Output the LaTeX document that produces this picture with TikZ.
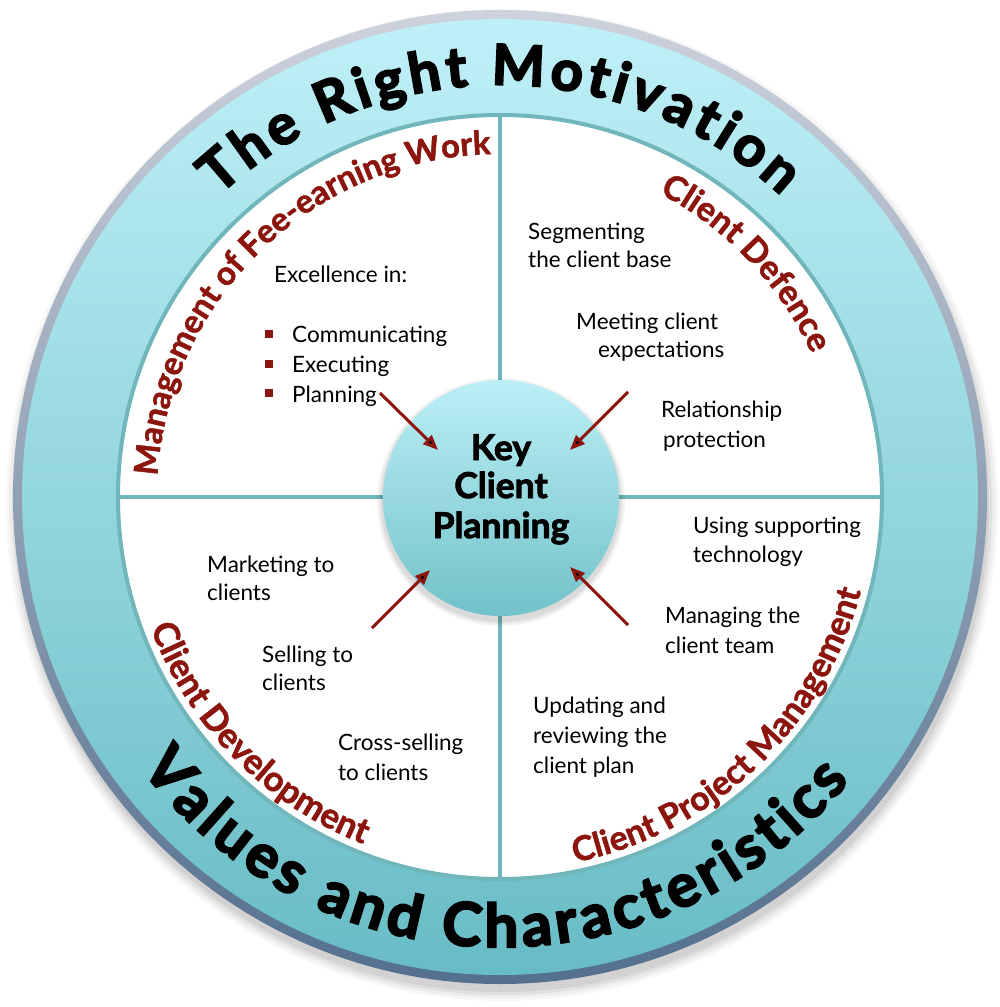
\documentclass[tikz,border=0pt]{standalone}
\usepackage{fontspec}
\setmainfont{Lato}
\newfontfamily\heavyfont{Lato}[BoldFeatures={FakeBold=3.5}]
\newfontfamily\hubfont{Lato}[BoldFeatures={FakeBold=2.5}]
\newfontfamily\redfont{Lato}[BoldFeatures={FakeBold=1.5}]
\usetikzlibrary{decorations.text,arrows.meta}
\definecolor{rimtop}{HTML}{CDD2DC}
\definecolor{rimbot}{HTML}{54708E}
\definecolor{ringtop}{HTML}{BFF0F7}
\definecolor{ringbot}{HTML}{68BCC5}
\definecolor{edge}{HTML}{70B6BA}
\definecolor{hubtop}{HTML}{BCEFF6}
\definecolor{hubbot}{HTML}{72C2C9}
\definecolor{kred}{HTML}{8C150E}
\begin{document}
\begin{tikzpicture}[x=1pt,y=1pt,
  body/.style={font=\fontsize{22.5}{27}\selectfont, anchor=base west, inner sep=0pt, text=black},
  hubtxt/.style={font=\hubfont\fontsize{35.5}{40}\selectfont\bfseries, anchor=base, inner sep=0pt},
  bul/.style={rectangle, fill=kred, minimum size=8pt, inner sep=0pt},
  arr/.style={draw=kred, line width=3pt, -{Triangle[length=15pt,width=12pt]}},
  ringtext/.style={decorate, decoration={text along path, text align=fit to path, text color=black}},
  redtext/.style={decorate, decoration={text along path, text align=center, text color=kred}}
]
\useasboundingbox (-500,-510) rectangle (499,497);
\fill[white] (-500,-510) rectangle (499,497);
% soft shadow
\foreach \r/\o in {496/0.03,493/0.04,490/0.05,487/0.06} {
  \fill[black, opacity=\o] (2,-8) circle[radius=\r];
}
% rim and ring
\shade[top color=rimtop, bottom color=rimbot] (0,0) circle[radius=487];
\shade[top color=ringtop, bottom color=ringbot] (0,0) circle[radius=478];
% inner white disc
\fill[white] (0,0) circle[radius=382];
\draw[edge, line width=4pt] (0,0) circle[radius=382];
% quadrant dividers
\draw[edge, line width=4pt] (0,382) -- (0,-382);
\draw[edge, line width=4pt] (-382,0) -- (382,0);
% ring texts
\path[ringtext, decoration={text={|\heavyfont\fontsize{56}{56}\selectfont\bfseries|The Right Motivation}}]
  (133:412) arc[start angle=133, end angle=47, radius=412];
\path[ringtext, decoration={text={|\heavyfont\fontsize{60}{60}\selectfont\bfseries|Values and Characteristics}}]
  (217:450) arc[start angle=217, end angle=321, radius=450];
% quadrant titles
\path[redtext, decoration={text={|\redfont\fontsize{33}{33}\selectfont\bfseries|Management of Fee-earning Work}}]
  (200:343) arc[start angle=200, end angle=68, radius=343];
\path[redtext, decoration={text={|\redfont\fontsize{34}{34}\selectfont\bfseries|Client Defence}}]
  (80:343) arc[start angle=80, end angle=7, radius=343];
\path[redtext, decoration={text={|\redfont\fontsize{35}{35}\selectfont\bfseries|Client Development}}]
  (190:373) arc[start angle=190, end angle=259, radius=373];
\path[redtext, decoration={text={|\redfont\fontsize{34}{34}\selectfont\bfseries|Client Project Management}}]
  (265:373) arc[start angle=265, end angle=362, radius=373];
% hub
\foreach \r/\o in {124/0.04,122/0.05,120/0.06} {
  \fill[black, opacity=\o] (1,-5) circle[radius=\r];
}
\node[circle, minimum size=236pt, inner sep=0pt, top color=hubtop, bottom color=hubbot] (kcp) at (1,-1) {};
\node[hubtxt] (kcp1) at (1,37) {Key};
\node[hubtxt] (kcp2) at (1,-1) {Client};
\node[hubtxt] (kcp3) at (1,-41) {Planning};
% top-left quadrant
\node[body] (exc) at (-226,214) {Excellence in:};
\node[bul] (b1) at (-231,163) {};
\node[bul] (b2) at (-231,133) {};
\node[bul] (b3) at (-231,104) {};
\node[body] (com) at (-208,154) {Communicating};
\node[body] (exe) at (-208,124) {Executing};
\node[body] (pla) at (-208,95) {Planning};
% top-right quadrant
\node[body] (seg1) at (28,257) {Segmenting};
\node[body] (seg2) at (28,229) {the client base};
\node[body] (meet1) at (76,167) {Meeting client};
\node[body] (meet2) at (98,139) {expectations};
\node[body] (rel1) at (161,79) {Relationship};
\node[body] (rel2) at (163,49) {protection};
% bottom-right quadrant
\node[body] (use1) at (193,-36) {Using supporting};
\node[body] (use2) at (193,-65) {technology};
\node[body] (man1) at (165,-126) {Managing the};
\node[body] (man2) at (165,-156) {client team};
\node[body] (upd1) at (33,-216) {Updating and};
\node[body] (upd2) at (33,-246) {reviewing the};
\node[body] (upd3) at (33,-276) {client plan};
% bottom-left quadrant
\node[body] (mkt1) at (-293,-75) {Marketing to};
\node[body] (mkt2) at (-293,-103) {clients};
\node[body] (sel1) at (-238,-165) {Selling to};
\node[body] (sel2) at (-238,-193) {clients};
\node[body] (cro1) at (-162,-253) {Cross-selling};
\node[body] (cro2) at (-162,-283) {to clients};
% arrows
\coordinate (a1s) at (-120,104); \coordinate (a1e) at (-62,47);
\coordinate (a2s) at (128,105);  \coordinate (a2e) at (70,47);
\coordinate (a3s) at (-128,-131); \coordinate (a3e) at (-70,-73);
\coordinate (a4s) at (128,-128); \coordinate (a4e) at (70,-70);
\draw[arr] (a1s) -- (a1e);
\draw[arr] (a2s) -- (a2e);
\draw[arr] (a3s) -- (a3e);
\draw[arr] (a4s) -- (a4e);
\end{tikzpicture}
\end{document}
